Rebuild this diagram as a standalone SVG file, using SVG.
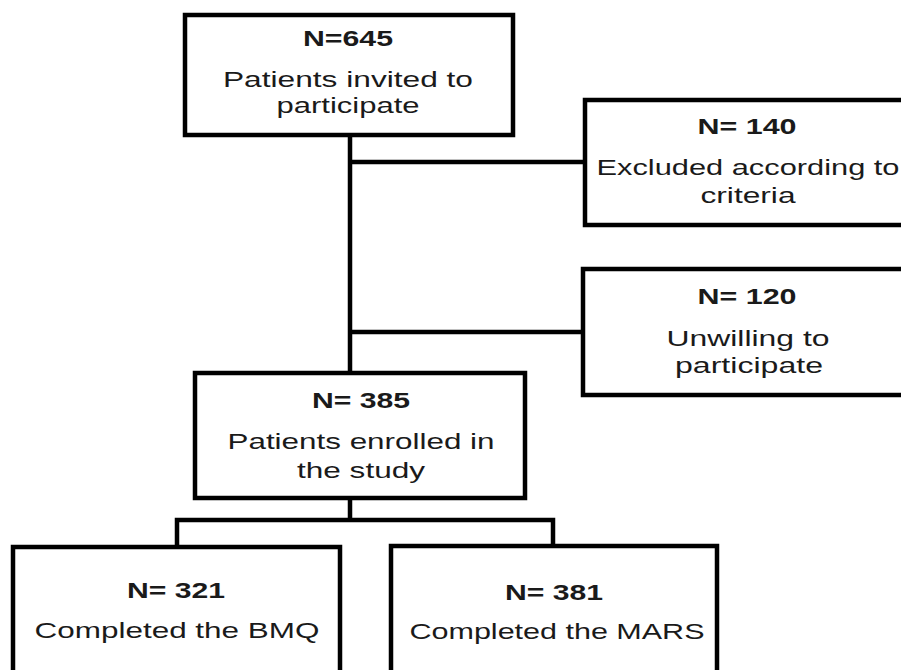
<svg xmlns="http://www.w3.org/2000/svg" width="901" height="670" viewBox="0 0 901 670">
<style>
.box{fill:#fff;stroke:#000;stroke-width:4.5}
.ln{fill:none;stroke:#000;stroke-width:4.5;stroke-linecap:square}
text{font-family:"Liberation Sans","Arial",sans-serif;font-size:22px;fill:#1a1a1a;text-anchor:middle}
.b{font-weight:bold}
</style>
<rect width="901" height="670" fill="#fff"/>
<g id="connectors">
<path class="ln" d="M350,135 V373 M350,162 H585 M350,332 H583 M350,498 V520 M177,520 H553 M177,520 V547 M553,520 V546"/>
</g>
<g id="invited">
<rect class="box" x="185" y="15" width="328" height="120"/>
<text class="b" x="348" y="46" textLength="90" lengthAdjust="spacingAndGlyphs">N=645</text>
<text x="348" y="87" textLength="250" lengthAdjust="spacingAndGlyphs">Patients invited to</text>
<text x="348" y="113" textLength="143" lengthAdjust="spacingAndGlyphs">participate</text>
</g>
<g id="excluded">
<rect class="box" x="585" y="100" width="330" height="125"/>
<text class="b" x="747" y="134" textLength="99" lengthAdjust="spacingAndGlyphs">N= 140</text>
<text x="748" y="175" textLength="303" lengthAdjust="spacingAndGlyphs">Excluded according to</text>
<text x="748" y="203" textLength="95" lengthAdjust="spacingAndGlyphs">criteria</text>
</g>
<g id="unwilling">
<rect class="box" x="583" y="269" width="332" height="126"/>
<text class="b" x="747" y="304" textLength="99" lengthAdjust="spacingAndGlyphs">N= 120</text>
<text x="748" y="346" textLength="163" lengthAdjust="spacingAndGlyphs">Unwilling to</text>
<text x="749" y="373" textLength="148" lengthAdjust="spacingAndGlyphs">participate</text>
</g>
<g id="enrolled">
<rect class="box" x="195" y="373" width="330" height="125"/>
<text class="b" x="361" y="408" textLength="98" lengthAdjust="spacingAndGlyphs">N= 385</text>
<text x="361" y="449" textLength="267" lengthAdjust="spacingAndGlyphs">Patients enrolled in</text>
<text x="361" y="478" textLength="128" lengthAdjust="spacingAndGlyphs">the study</text>
</g>
<g id="bmq">
<rect class="box" x="13" y="547" width="327" height="140"/>
<text class="b" x="176" y="598" textLength="98" lengthAdjust="spacingAndGlyphs">N= 321</text>
<text x="177" y="638" textLength="285" lengthAdjust="spacingAndGlyphs">Completed the BMQ</text>
</g>
<g id="mars">
<rect class="box" x="391" y="546" width="326" height="140"/>
<text class="b" x="554" y="600" textLength="98" lengthAdjust="spacingAndGlyphs">N= 381</text>
<text x="557" y="639" textLength="295" lengthAdjust="spacingAndGlyphs">Completed the MARS</text>
</g>
</svg>
